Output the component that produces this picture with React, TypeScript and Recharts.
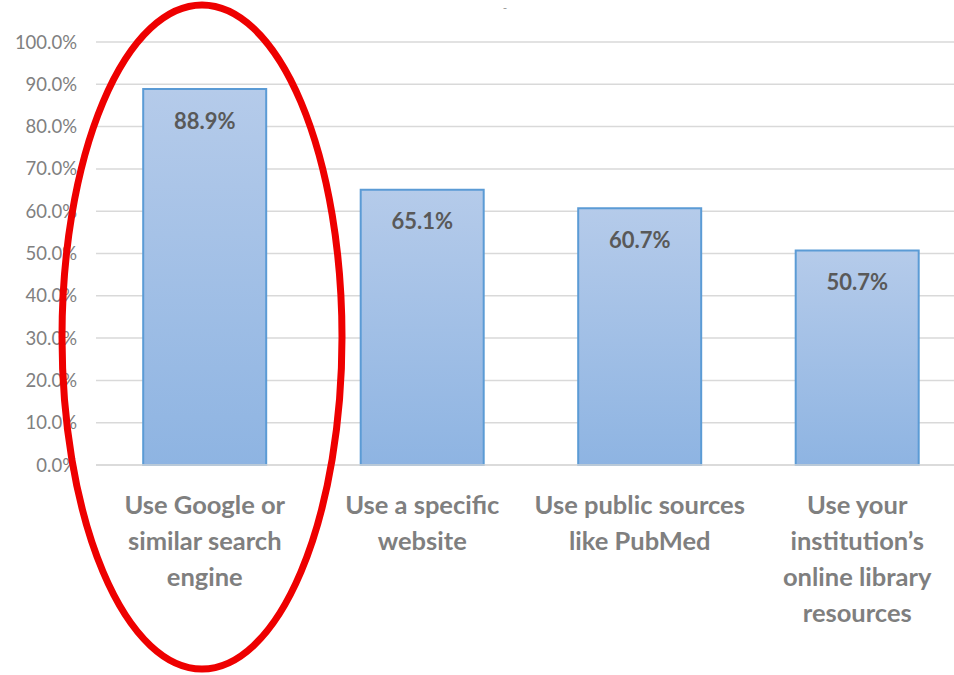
import React from "react";
import { BarChart, Bar, XAxis, YAxis, CartesianGrid, LabelList } from "recharts";

const categories = [
  "Use Google or similar search engine",
  "Use a specific website",
  "Use public sources like PubMed",
  "Use your institution’s online library resources",
];
const categoryLines = [
  ["Use Google or", "similar search", "engine"],
  ["Use a specific", "website"],
  ["Use public sources", "like PubMed"],
  ["Use your", "institution’s", "online library", "resources"],
];
const values = [88.9, 65.1, 60.7, 50.7];
const yTicks = [0, 10, 20, 30, 40, 50, 60, 70, 80, 90, 100];

const data = categories.map((c, i) => ({ name: c, value: values[i] }));

const FONT = "Lato, 'Open Sans', sans-serif";

const XTick = (props: any) => {
  const { x, y, payload } = props;
  const idx = categories.indexOf(payload.value);
  const lines = idx >= 0 ? categoryLines[idx] : [payload.value];
  return (
    <text
      x={x}
      y={y}
      textAnchor="middle"
      fill="#7f7f7f"
      fontFamily={FONT}
      fontWeight={700}
      fontSize={25.5}
    >
      {lines.map((l, i) => (
        <tspan key={i} x={x} y={y + 49 + i * 36}>
          {l}
        </tspan>
      ))}
    </text>
  );
};

export default function App() {
  return (
    <div
      style={{
        position: "absolute",
        left: 0,
        top: 0,
        width: 954,
        height: 675,
        overflow: "hidden",
        background: "#fff",
      }}
    >
      <BarChart
        width={970}
        height={675}
        data={data}
        margin={{ top: 42, right: 4, bottom: 0, left: 0 }}
        barCategoryGap="21.7%"
      >
        <defs>
          <linearGradient id="barGrad" x1="0" y1="0" x2="0" y2="1">
            <stop offset="0%" stopColor="#b5cbea" />
            <stop offset="100%" stopColor="#8eb4e2" />
          </linearGradient>
        </defs>
        <CartesianGrid vertical={false} stroke="#d9d9d9" strokeWidth={1.5} />
        <XAxis
          dataKey="name"
          axisLine={{ stroke: "#d9d9d9", strokeWidth: 1.5 }}
          tickLine={false}
          tickSize={0}
          tickMargin={0}
          height={210}
          interval={0}
          tick={<XTick />}
        />
        <YAxis
          domain={[0, 100]}
          ticks={yTicks}
          width={96}
          axisLine={false}
          tickLine={false}
          tickSize={0}
          tickMargin={19}
          tickFormatter={(v: number) => `${v.toFixed(1)}%`}
          tick={{ fill: "#808080", fontSize: 18.5, fontFamily: FONT }}
        />
        <Bar
          dataKey="value"
          fill="url(#barGrad)"
          stroke="#5b9bd5"
          strokeWidth={2}
          isAnimationActive={false}
        >
          <LabelList
            dataKey="value"
            position="insideTop"
            offset={24}
            formatter={(v: number) => `${v.toFixed(1)}%`}
            fill="#595959"
            fontSize={22}
            fontWeight={700}
            fontFamily={FONT}
          />
        </Bar>
      </BarChart>
      <svg
        width={954}
        height={675}
        style={{ position: "absolute", left: 0, top: 0, pointerEvents: "none" }}
      >
        <text x={505} y={12} fill="#999" fontSize={12} fontFamily={FONT} textAnchor="middle">
          -
        </text>
        <ellipse cx={202} cy={337} rx={140} ry={332} fill="none" stroke="#ee0000" strokeWidth={7} />
      </svg>
    </div>
  );
}
